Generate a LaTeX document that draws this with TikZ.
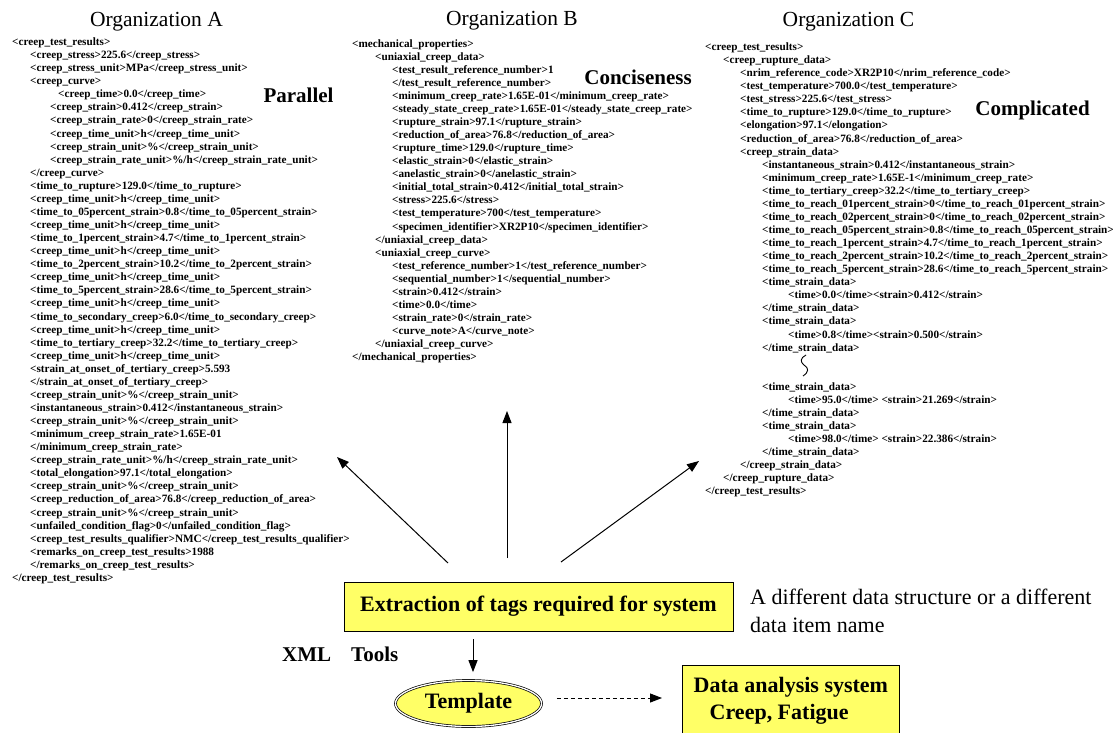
\documentclass[tikz,border=0pt]{standalone}
\usepackage{fontspec}
\setmainfont{Liberation Serif}
\usetikzlibrary{arrows.meta,positioning,shapes.geometric}

\definecolor{boxyellow}{RGB}{255,255,102}
\newcommand{\ind}[1]{\hspace*{#1pt}}

\tikzset{
  xmltext/.style={align=left, inner sep=0pt, anchor=base west, font=\bfseries\fontsize{11.2}{13.07}\selectfont},
  orgtitle/.style={anchor=base, inner sep=0pt, font=\fontsize{21.5}{24}\selectfont},
  remark/.style={inner sep=0pt, font=\bfseries\fontsize{21}{24}\selectfont},
  yellowbox/.style={draw, line width=0.8pt, fill=boxyellow, font=\bfseries\fontsize{22}{27}\selectfont},
  flow/.style={-{Triangle[length=12pt,width=9pt]}, line width=1pt},
}

\begin{document}
\catcode`\_=12
\begin{tikzpicture}[x=1pt,y=-1pt]
			%\draw[help lines] (0,0) grid[step=50] (1113,733);
			\useasboundingbox (0,0) rectangle (1113,733);

			\node[orgtitle] (orgA) at (156.5,27) {Organization A};
			\node[orgtitle] (orgB) at (512,26) {Organization B};
			\node[orgtitle] (orgC) at (848.5,26.7) {Organization C};

			\node[remark, anchor=base] (parallel) at (298.5,103) {Parallel};
			\node[remark, anchor=base] (concise) at (638,85) {Conciseness};
			\node[remark, anchor=base] (complicated) at (1032.5,116) {Complicated};

			% organization A (placed by its last line)
			\node[xmltext] (xmlA) at (12,581.4) {
				<creep_test_results>\\
				\ind{18}<creep_stress>225.6</creep_stress>\\
				\ind{18}<creep_stress_unit>MPa</creep_stress_unit>\\
				\ind{18}<creep_curve>\\
				\ind{46}<creep_time>0.0</creep_time>\\
				\ind{38}<creep_strain>0.412</creep_strain>\\
				\ind{38}<creep_strain_rate>0</creep_strain_rate>\\
				\ind{38}<creep_time_unit>h</creep_time_unit>\\
				\ind{38}<creep_strain_unit>\%</creep_strain_unit>\\
				\ind{38}<creep_strain_rate_unit>\%/h</creep_strain_rate_unit>\\
				\ind{18}</creep_curve>\\
				\ind{18}<time_to_rupture>129.0</time_to_rupture>\\
				\ind{18}<creep_time_unit>h</creep_time_unit>\\
				\ind{18}<time_to_05percent_strain>0.8</time_to_05percent_strain>\\
				\ind{18}<creep_time_unit>h</creep_time_unit>\\
				\ind{18}<time_to_1percent_strain>4.7</time_to_1percent_strain>\\
				\ind{18}<creep_time_unit>h</creep_time_unit>\\
				\ind{18}<time_to_2percent_strain>10.2</time_to_2percent_strain>\\
				\ind{18}<creep_time_unit>h</creep_time_unit>\\
				\ind{18}<time_to_5percent_strain>28.6</time_to_5percent_strain>\\
				\ind{18}<creep_time_unit>h</creep_time_unit>\\
				\ind{18}<time_to_secondary_creep>6.0</time_to_secondary_creep>\\
				\ind{18}<creep_time_unit>h</creep_time_unit>\\
				\ind{18}<time_to_tertiary_creep>32.2</time_to_tertiary_creep>\\
				\ind{18}<creep_time_unit>h</creep_time_unit>\\
				\ind{18}<strain_at_onset_of_tertiary_creep>5.593\\
				\ind{18}</strain_at_onset_of_tertiary_creep>\\
				\ind{18}<creep_strain_unit>\%</creep_strain_unit>\\
				\ind{18}<instantaneous_strain>0.412</instantaneous_strain>\\
				\ind{18}<creep_strain_unit>\%</creep_strain_unit>\\
				\ind{18}<minimum_creep_strain_rate>1.65E-01\\
				\ind{18}</minimum_creep_strain_rate>\\
				\ind{18}<creep_strain_rate_unit>\%/h</creep_strain_rate_unit>\\
				\ind{18}<total_elongation>97.1</total_elongation>\\
				\ind{18}<creep_strain_unit>\%</creep_strain_unit>\\
				\ind{18}<creep_reduction_of_area>76.8</creep_reduction_of_area>\\
				\ind{18}<creep_strain_unit>\%</creep_strain_unit>\\
				\ind{18}<unfailed_condition_flag>0</unfailed_condition_flag>\\
				\ind{18}<creep_test_results_qualifier>NMC</creep_test_results_qualifier>\\
				\ind{18}<remarks_on_creep_test_results>1988\\
				\ind{18}</remarks_on_creep_test_results>\\
				</creep_test_results>};

			% organization B
			\node[xmltext] (xmlB) at (352,360.7) {
				<mechanical_properties>\\
				\ind{23}<uniaxial_creep_data>\\
				\ind{40}<test_result_reference_number>1\\
				\ind{40}</test_result_reference_number>\\
				\ind{40}<minimum_creep_rate>1.65E-01</minimum_creep_rate>\\
				\ind{40}<steady_state_creep_rate>1.65E-01</steady_state_creep_rate>\\
				\ind{40}<rupture_strain>97.1</rupture_strain>\\
				\ind{40}<reduction_of_area>76.8</reduction_of_area>\\
				\ind{40}<rupture_time>129.0</rupture_time>\\
				\ind{40}<elastic_strain>0</elastic_strain>\\
				\ind{40}<anelastic_strain>0</anelastic_strain>\\
				\ind{40}<initial_total_strain>0.412</initial_total_strain>\\
				\ind{40}<stress>225.6</stress>\\
				\ind{40}<test_temperature>700</test_temperature>\\
				\ind{40}<specimen_identifier>XR2P10</specimen_identifier>\\
				\ind{23}</uniaxial_creep_data>\\
				\ind{23}<uniaxial_creep_curve>\\
				\ind{40}<test_reference_number>1</test_reference_number>\\
				\ind{40}<sequential_number>1</sequential_number>\\
				\ind{40}<strain>0.412</strain>\\
				\ind{40}<time>0.0</time>\\
				\ind{40}<strain_rate>0</strain_rate>\\
				\ind{40}<curve_note>A</curve_note>\\
				\ind{23}</uniaxial_creep_curve>\\
				</mechanical_properties>};

			% organization C
			\node[xmltext] (xmlC) at (705,494.9) {
				<creep_test_results>\\
				\ind{18}<creep_rupture_data>\\
				\ind{35}<nrim_reference_code>XR2P10</nrim_reference_code>\\
				\ind{35}<test_temperature>700.0</test_temperature>\\
				\ind{35}<test_stress>225.6</test_stress>\\
				\ind{35}<time_to_rupture>129.0</time_to_rupture>\\
				\ind{35}<elongation>97.1</elongation>\\
				\ind{35}<reduction_of_area>76.8</reduction_of_area>\\
				\ind{35}<creep_strain_data>\\
				\ind{57}<instantaneous_strain>0.412</instantaneous_strain>\\
				\ind{57}<minimum_creep_rate>1.65E-1</minimum_creep_rate>\\
				\ind{57}<time_to_tertiary_creep>32.2</time_to_tertiary_creep>\\
				\ind{57}<time_to_reach_01percent_strain>0</time_to_reach_01percent_strain>\\
				\ind{57}<time_to_reach_02percent_strain>0</time_to_reach_02percent_strain>\\
				\ind{57}<time_to_reach_05percent_strain>0.8</time_to_reach_05percent_strain>\\
				\ind{57}<time_to_reach_1percent_strain>4.7</time_to_reach_1percent_strain>\\
				\ind{57}<time_to_reach_2percent_strain>10.2</time_to_reach_2percent_strain>\\
				\ind{57}<time_to_reach_5percent_strain>28.6</time_to_reach_5percent_strain>\\
				\ind{57}<time_strain_data>\\
				\ind{83}<time>0.0</time><strain>0.412</strain>\\
				\ind{57}</time_strain_data>\\
				\ind{57}<time_strain_data>\\
				\ind{83}<time>0.8</time><strain>0.500</strain>\\
				\ind{57}</time_strain_data>\\[26.14pt]
				\ind{57}<time_strain_data>\\
				\ind{83}<time>95.0</time> <strain>21.269</strain>\\
				\ind{57}</time_strain_data>\\
				\ind{57}<time_strain_data>\\
				\ind{83}<time>98.0</time> <strain>22.386</strain>\\
				\ind{57}</time_strain_data>\\
				\ind{35}</creep_strain_data>\\
				\ind{18}</creep_rupture_data>\\
				</creep_test_results>};

			% the omitted part
			\draw[line width=0.9pt] (806,355) .. controls (800,358) and (800,362) .. (804,365) .. controls (809,368) and (809,372) .. (803,376);

			% lower part
			\node[yellowbox, minimum width=389, minimum height=49] (extract) at (538.5,606.5) {Extraction of tags required for system};
			\node[anchor=base west, inner sep=0pt, align=left, font=\fontsize{22}{28}\selectfont] (note) at (750,632) {A different data structure or a different\\data item name};
			\node[remark, anchor=base west] (tools) at (282,661) {XML\hspace{20pt}Tools};
			\node[yellowbox, ellipse, double, double distance=1.3pt, line width=0.7pt, minimum width=146, minimum height=46] (template) at (468.5,703.5) {Template};
			\node[yellowbox, anchor=north west, minimum width=217, minimum height=70, align=left] (data) at (682,665) {Data analysis system\\\ind{16}Creep, Fatigue};

			\coordinate (fromA) at (448,563);
			\coordinate (fromB) at (507,558);
			\coordinate (fromC) at (561,562);
			\coordinate (aimA) at (337,457);
			\coordinate (aimB) at (507,411);
			\coordinate (aimC) at (699,461);
			\coordinate (down) at (473,0);

			\draw[flow] (fromA) -- (aimA);
			\draw[flow] (fromB) -- (aimB);
			\draw[flow] (fromC) -- (aimC);

			\draw[flow, shorten <=8pt, shorten >=8pt] (extract.south -| down) -- (template.north -| down);
			\draw[flow, dashed, dash pattern=on 4pt off 3pt, shorten <=15pt, shorten >=20pt] ([yshift=5.5pt]template.east) -- ([yshift=5.5pt]template.east -| data.west);
		\end{tikzpicture}
\end{document}
